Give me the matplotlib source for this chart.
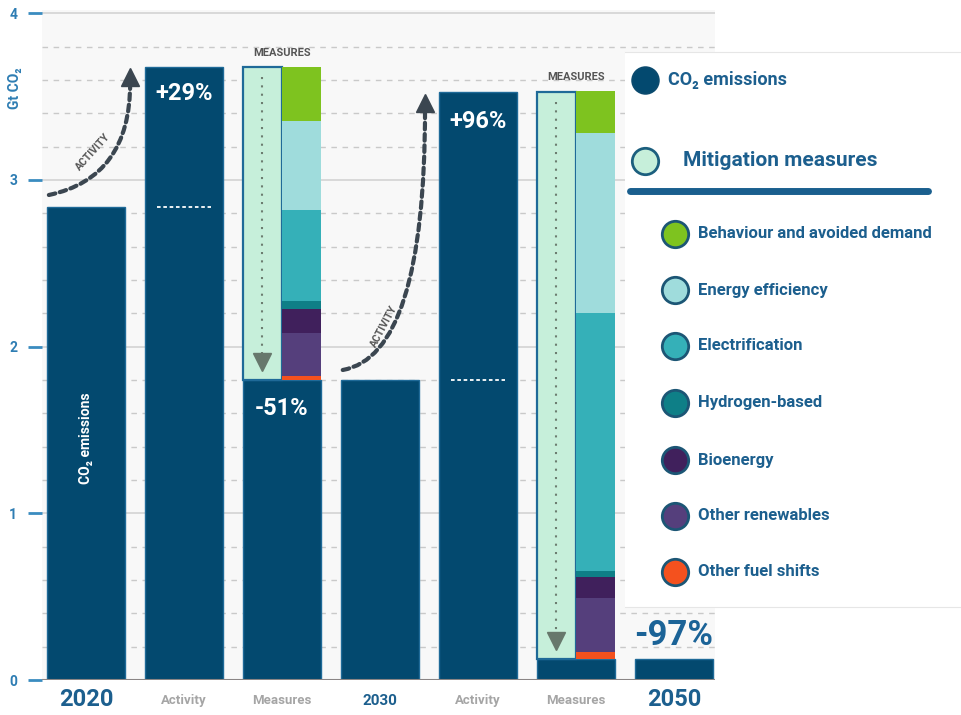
import numpy as np
import matplotlib.pyplot as plt

plt.rcParams['font.family'] = ['Roboto', 'DejaVu Sans']

# ---- data ----
labels = ['2020', 'Activity', 'Measures', '2030', 'Activity', 'Measures', '2050']
emissions = [2.84, 3.68, 1.80, 3.53, 0.125]      # 2020, activity->2030, 2030, activity->2050, 2050
growth = ['+29%', '+96%']
cuts = ['-51%', '-97%']

measures = ['Behaviour and avoided demand', 'Energy efficiency', 'Electrification',
            'Hydrogen-based', 'Bioenergy', 'Other renewables', 'Other fuel shifts']
m2030 = [0.325, 0.534, 0.546, 0.048, 0.144, 0.258, 0.025]
m2050 = [0.25, 1.08, 1.55, 0.036, 0.126, 0.324, 0.042]
mcolors = ['#7ec31f', '#9fdcdc', '#35b0b8', '#0e7f87', '#40205c', '#553f7c', '#f4511e']

NAVY = '#03496f'
MINT = '#c6efda'
BLUE = '#1c5f8e'
GREY = '#a5a5a5'

fig = plt.figure(figsize=(9.61, 7.15), dpi=100)
ax = fig.add_axes([42 / 961, 1 - 680 / 715, (715 - 42) / 961, (680 - 10) / 715])
ax.set_facecolor('#f8f8f8')

x = np.arange(len(labels))
w = 0.8

# emission bars
ax.bar(x[0], emissions[0], w, color=NAVY, edgecolor='#1f6a98', lw=1, zorder=3)
ax.bar(x[1], emissions[1], w, color=NAVY, edgecolor='#1f6a98', lw=1, zorder=3)
ax.bar(x[3], emissions[2], w, color=NAVY, edgecolor='#1f6a98', lw=1, zorder=3)
ax.bar(x[4], emissions[3], w, color=NAVY, edgecolor='#1f6a98', lw=1, zorder=3)
ax.bar(x[6], emissions[4], w, color=NAVY, edgecolor='#1f6a98', lw=1, zorder=3)


def measure_bar(xc, base, top, vals, label_y):
    # navy remainder
    ax.bar(xc, base, w, color=NAVY, edgecolor='#1f6a98', lw=1, zorder=3)
    # mitigation box (left half)
    ax.bar(xc - w / 4, top - base, w / 2, bottom=base, color=MINT,
           edgecolor='#1f6a98', lw=1.6, zorder=3)
    # stacked measures (right half), bottom-up
    b = base
    for v, c in zip(vals[::-1], mcolors[::-1]):
        ax.bar(xc + w / 4, v, w / 2, bottom=b, color=c, lw=0, zorder=3)
        b += v
    # dotted arrow in the box
    ax.plot([xc - w / 4, xc - w / 4], [top - 0.06, base + 0.16], color='#6c7d70',
            ls=(0, (1, 3)), lw=1.5, zorder=4)
    ax.plot(xc - w / 4, base + 0.11, marker='v', ms=13, color='#67786c', zorder=4)
    ax.text(xc, label_y, 'MEASURES', ha='center', va='center', fontsize=8,
            fontweight='bold', color='#555555', zorder=5)


measure_bar(x[2], emissions[2], emissions[1], m2030, emissions[1] + 0.08)
measure_bar(x[5], emissions[4], emissions[3], m2050, emissions[3] + 0.09)

# previous level markers on activity bars
ax.plot([x[1] - 0.28, x[1] + 0.28], [emissions[0]] * 2, color='white', ls=(0, (2, 1.5)), lw=1.3, zorder=4)
ax.plot([x[4] - 0.28, x[4] + 0.28], [emissions[2]] * 2, color='white', ls=(0, (2, 1.5)), lw=1.3, zorder=4)

# labels inside bars
ax.text(x[1], emissions[1] - 0.16, growth[0], color='white', ha='center', va='center',
        fontsize=17, fontweight='bold', zorder=5)
ax.text(x[4], emissions[3] - 0.18, growth[1], color='white', ha='center', va='center',
        fontsize=17, fontweight='bold', zorder=5)
ax.text(x[2], emissions[2] - 0.17, cuts[0], color='white', ha='center', va='center',
        fontsize=17, fontweight='bold', zorder=5)
ax.text(x[6], emissions[4] + 0.14, cuts[1], color='#1b6397', ha='center', va='center',
        fontsize=25, fontweight='bold', zorder=5)
ax.text(x[0], 1.45, 'CO₂ emissions', color='white', rotation=90, ha='center', va='center',
        fontsize=10, fontweight='bold', zorder=5)

# activity arrows
for (x0, y0), (x1, y1), ang, (tx, ty, rot) in [
        ((-0.38, 2.91), (0.45, 3.58), 12, (0.07, 3.17, 48)),
        ((2.62, 1.86), (3.46, 3.42), 10, (3.04, 2.12, 62))]:
    ax.annotate('', xy=(x1, y1), xytext=(x0, y0),
                arrowprops=dict(arrowstyle='-', lw=3, color='#3b4650', ls=(0, (1.6, 1.1)),
                                connectionstyle=f'angle3,angleA={ang},angleB=90',
                                shrinkA=0, shrinkB=0), zorder=4)
    ax.plot(x1, y1 + 0.04, marker='^', ms=13, color='#3b4650', zorder=4)
    ax.text(tx, ty, 'ACTIVITY', rotation=rot, ha='center', va='center', fontsize=7.5,
            fontweight='bold', color='#555555', zorder=5)

# axes styling
ax.set_xlim(-0.45, 6.42)
ax.set_ylim(0, 4.02)
ax.set_yticks([0, 1, 2, 3, 4])
ax.set_yticks(np.arange(0, 4.01, 0.2), minor=True)
ax.grid(which='major', axis='y', color='#d3d3d3', lw=1.2)
ax.grid(which='minor', axis='y', color='#c9c9c9', ls=(0, (4, 4)), lw=1)
ax.set_axisbelow(True)
for s in ax.spines.values():
    s.set_visible(False)
ax.axhline(0, color='#8a8585', lw=1.5, zorder=5)
ax.tick_params(axis='y', which='major', length=10, width=2, color='#3a8cc0',
               labelcolor='#2e7db3', labelsize=10, pad=8)
ax.tick_params(axis='y', which='minor', length=0)
for t in ax.get_yticklabels():
    t.set_fontweight('bold')
ax.set_xticks(x)
ax.set_xticklabels(labels)
ax.tick_params(axis='x', length=0, pad=6)
for t, lab in zip(ax.get_xticklabels(), labels):
    t.set_fontweight('bold')
    if lab in ('2020', '2050'):
        t.set_fontsize(17)
        t.set_color(BLUE)
    elif lab == '2030':
        t.set_fontsize(11)
        t.set_color(BLUE)
        t.set_y(-0.008)
    else:
        t.set_fontsize(9.5)
        t.set_color(GREY)
        t.set_y(-0.008)

fig.text(15 / 961, 1 - 88 / 715, 'Gt CO₂', rotation=90, ha='center', va='center',
         fontsize=10, fontweight='bold', color='#2e7db3')

# legend panel
lg = fig.add_axes([625 / 961, 1 - 607 / 715, 336 / 961, (607 - 52) / 715])
lg.set_facecolor('white')
lg.set_xlim(625, 961)
lg.set_ylim(607, 52)
lg.set_xticks([])
lg.set_yticks([])
for k, s in lg.spines.items():
    s.set_visible(k in ('top', 'bottom'))
    s.set_color('#e6e6e6')

lg.plot(645, 80, 'o', ms=19, mfc=NAVY, mec='#0a4a6e', mew=1.5)
lg.text(668, 80, 'CO₂ emissions', fontsize=13, fontweight='bold', color=BLUE, va='center')
lg.plot(645, 161, 'o', ms=19, mfc=MINT, mec='#1c5f7e', mew=2)
lg.text(683, 161, 'Mitigation measures', fontsize=15, fontweight='bold', color=BLUE, va='center')
lg.plot([630, 928], [191, 191], color='#1a5f8e', lw=5, solid_capstyle='round')
leg_y = [234, 290, 346, 403, 460, 516, 572]
for name, c, yy in zip(measures, mcolors, leg_y):
    lg.plot(675, yy, 'o', ms=19, mfc=c, mec='#1c5675', mew=2)
    lg.text(698, yy, name, fontsize=12, fontweight='bold', color=BLUE, va='center')

fig.savefig('out.png', dpi=100)
